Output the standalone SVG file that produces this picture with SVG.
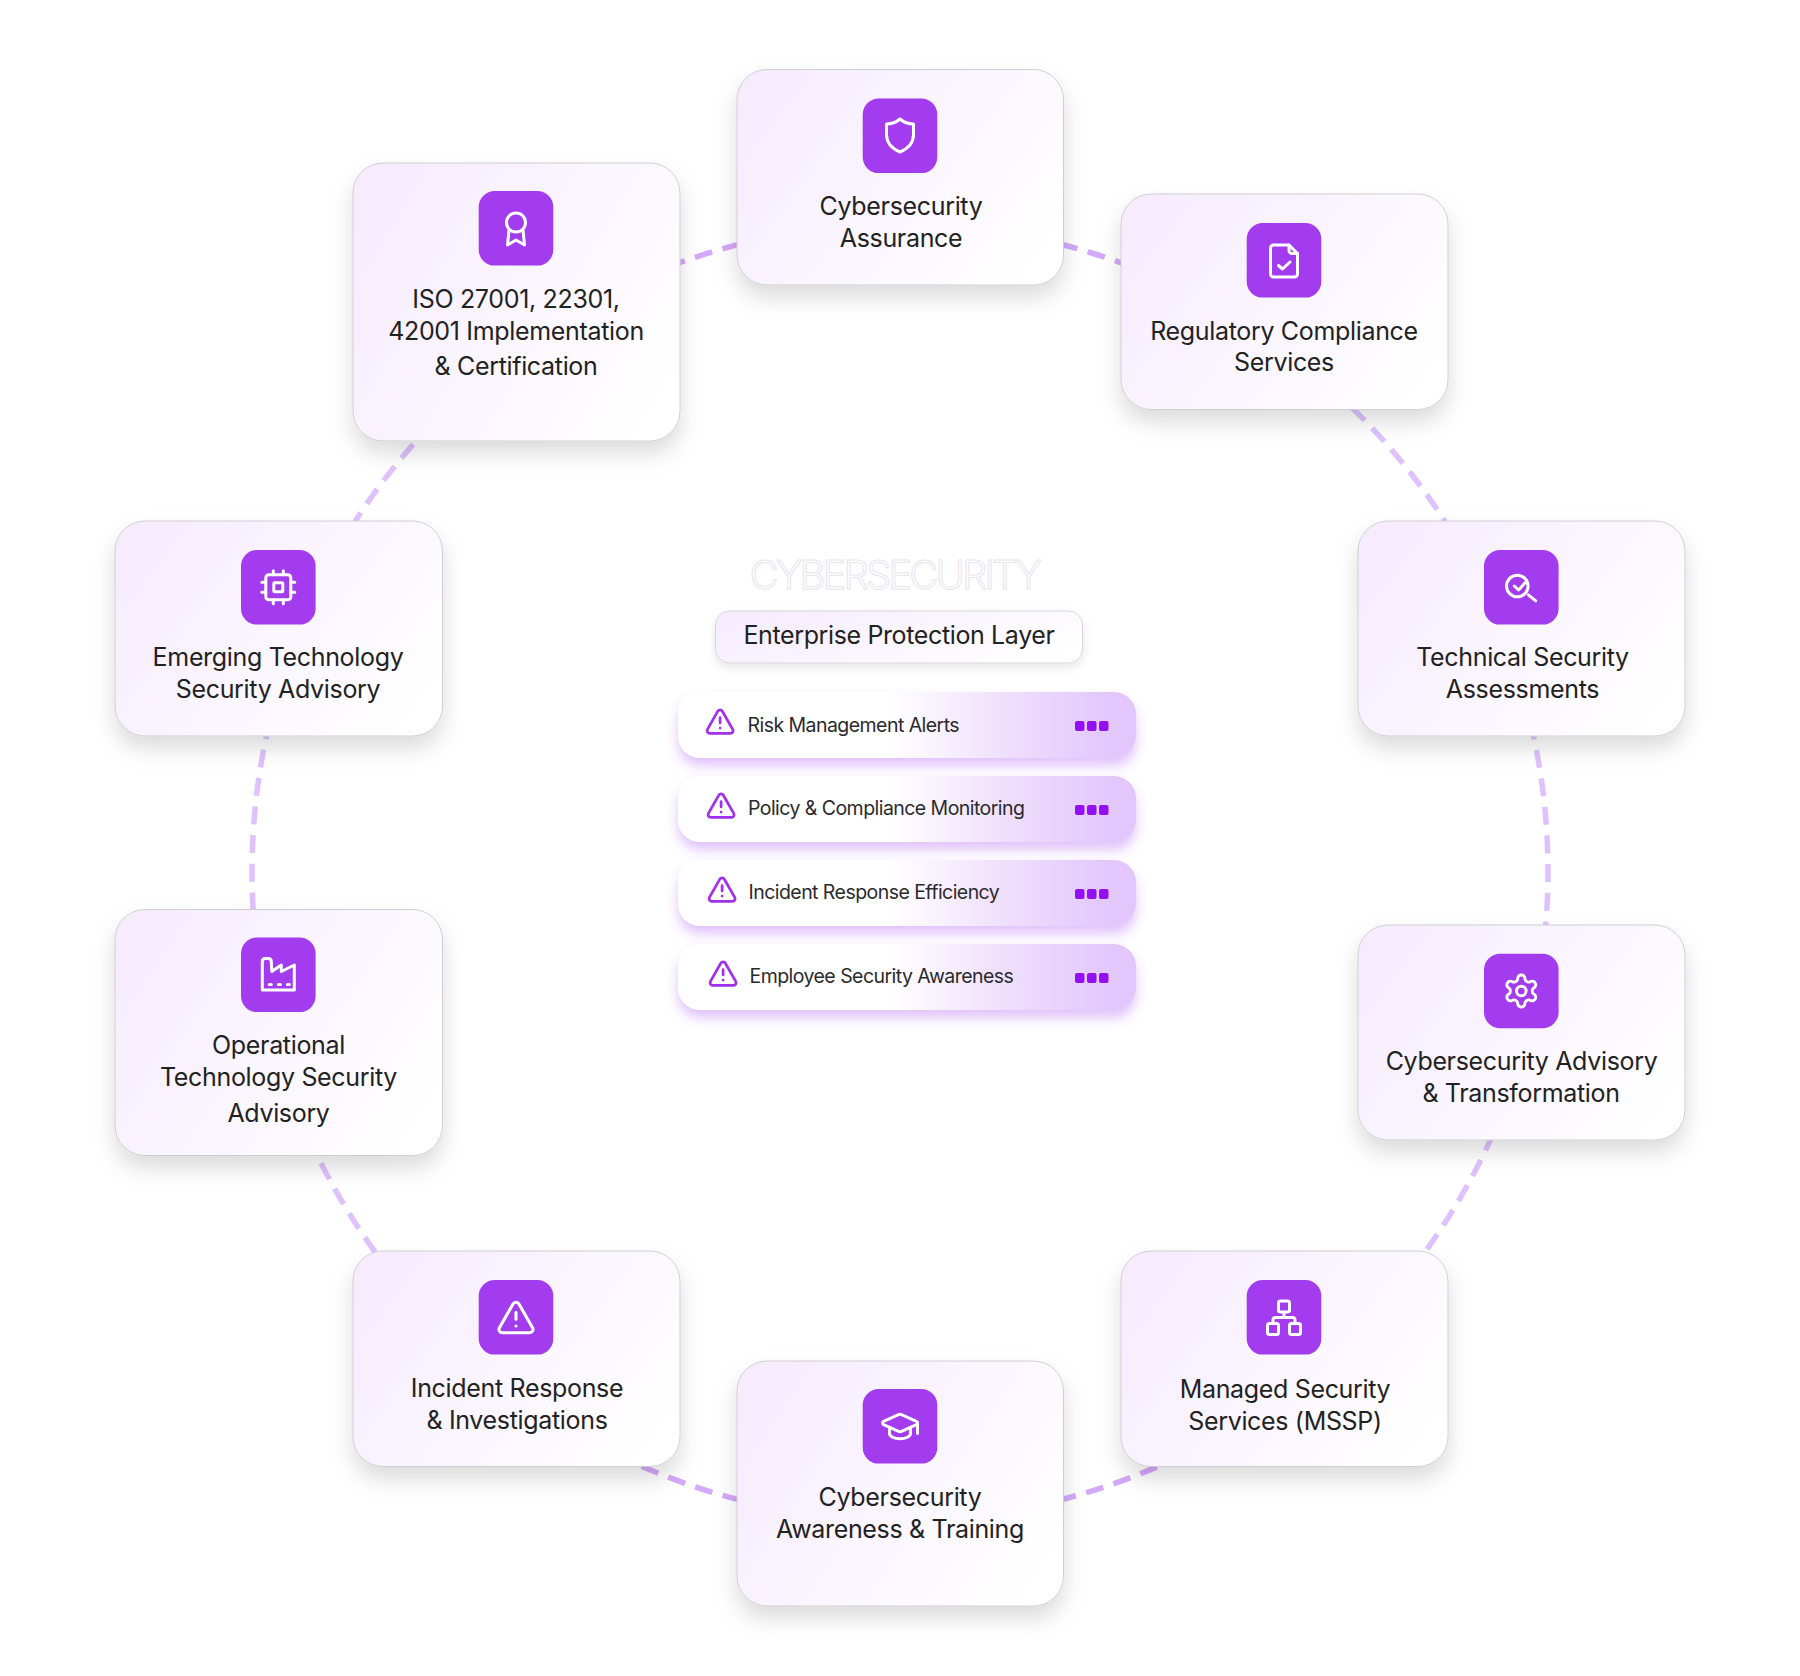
<svg xmlns="http://www.w3.org/2000/svg" width="1800" height="1676" viewBox="0 0 1800 1676">
<style>
text{font-family:"Inter","Liberation Sans",sans-serif}
.card{fill:url(#cg);stroke:#cbc9ce;stroke-width:.9;filter:url(#cs)}
.ib{fill:#a23cee}
.ic{fill:none;stroke:#fff;stroke-width:3;stroke-linecap:round;stroke-linejoin:round}
.t{font-size:25px;letter-spacing:-.33px;fill:#222;text-anchor:middle}
.row{fill:url(#rg);filter:url(#rs)}
.rt{font-size:19.500px;letter-spacing:-.55px;fill:#2a2a2e}
.tri{fill:none;stroke:#a030ee;stroke-width:2.100;stroke-linecap:round;stroke-linejoin:round}
.dot{fill:#9410f0}
.dk,.lt{fill:none;stroke-width:5.500;stroke-dasharray:18 10.700}
.dk{stroke:#d4a8fb}
.lt{stroke:#dfc2fd}
</style>
<defs>
<linearGradient id="cg" x1="0" y1="0.25" x2="1" y2="0.75"><stop offset="0" stop-color="#f6ecfe"/><stop offset="1" stop-color="#fff"/></linearGradient>
<linearGradient id="pg" x1="0" y1="0.3" x2="1" y2="0.7"><stop offset="0" stop-color="#f6ecfe"/><stop offset="1" stop-color="#fff"/></linearGradient>
<linearGradient id="rg" x1="0" y1="0" x2="1" y2="0"><stop offset="0" stop-color="#fff"/><stop offset=".46" stop-color="#fff"/><stop offset=".7" stop-color="#f0e1fd"/><stop offset=".95" stop-color="#e2c6fc"/><stop offset="1" stop-color="#e2c6fc"/></linearGradient>
<filter id="cs" x="-20%" y="-20%" width="140%" height="150%"><feDropShadow dx="0" dy="12" stdDeviation="11" flood-color="#000" flood-opacity=".14"/></filter>
<filter id="ps" x="-10%" y="-30%" width="120%" height="180%"><feDropShadow dx="0" dy="4" stdDeviation="5" flood-color="#000" flood-opacity=".1"/></filter>
<filter id="rs" x="-10%" y="-30%" width="120%" height="180%"><feDropShadow dx="0" dy="8" stdDeviation="6" flood-color="#a045f0" flood-opacity=".32"/></filter>
<g id="warn"><path d="m21.730 18-8-14a2 2 0 0 0-3.480 0l-8 14A2 2 0 0 0 4 21h16a2 2 0 0 0 1.730-3"/><path d="M12 9v4"/><path d="M12 17h.01"/></g>
</defs>
<rect width="1800" height="1676" fill="#fff"/>
<g id="connectors">
<path class="dk" d="M668 267A648 648 0 0 1 740 244"/>
<path class="dk" d="M1060 244A648 648 0 0 1 1124 264"/>
<path class="lt" d="M1352 407.700A648 648 0 0 1 1445 521.500"/>
<path class="lt" d="M1530.400 722A648 648 0 0 1 1545.700 926"/>
<path class="lt" d="M1493 1134A648 648 0 0 1 1420 1258.700"/>
<path class="dk" d="M1183 1454.900A648 648 0 0 1 1060 1500"/>
<path class="dk" d="M740 1500A648 648 0 0 1 630 1461"/>
<path class="lt" d="M392.500 1275A648 648 0 0 1 310 1140"/>
<path class="lt" d="M255.500 939A648 648 0 0 1 269.600 722"/>
<path class="lt" d="M351 527.800A648 648 0 0 1 440 415.600"/>
</g>
<g id="center">
<text x="749.500" y="589" font-size="40" fill="none" stroke="#e9e3ee" stroke-width="1" font-weight="300" letter-spacing="-2.900">CYBERSECURITY</text>
<g id="pill"><rect x="715.500" y="611" width="367" height="52" rx="14" fill="url(#pg)" stroke="#d0ced2" stroke-width=".8" filter="url(#ps)"/>
<text x="899" y="644" font-size="25" letter-spacing="-.37" fill="#222" text-anchor="middle">Enterprise Protection Layer</text></g>
<g id="row1"><rect class="row" x="678" y="692" width="458" height="66" rx="22"/>
<g class="tri" transform="translate(704.500 706) scale(1.300)"><use href="#warn"/></g>
<text class="rt" x="747.500" y="731.500">Risk Management Alerts</text>
<rect class="dot" x="1075" y="721" width="9.500" height="10" rx="2"/><rect class="dot" x="1087" y="721" width="9.500" height="10" rx="2"/><rect class="dot" x="1099" y="721" width="9.500" height="10" rx="2"/></g>
<g id="row2"><rect class="row" x="678" y="776" width="458" height="66" rx="22"/>
<g class="tri" transform="translate(705.500 790) scale(1.300)"><use href="#warn"/></g>
<text class="rt" x="748" y="815">Policy &amp; Compliance Monitoring</text>
<rect class="dot" x="1075" y="805" width="9.500" height="10" rx="2"/><rect class="dot" x="1087" y="805" width="9.500" height="10" rx="2"/><rect class="dot" x="1099" y="805" width="9.500" height="10" rx="2"/></g>
<g id="row3"><rect class="row" x="678" y="860" width="458" height="66" rx="22"/>
<g class="tri" transform="translate(706.500 874) scale(1.300)"><use href="#warn"/></g>
<text class="rt" x="748.500" y="899">Incident Response Efficiency</text>
<rect class="dot" x="1075" y="889" width="9.500" height="10" rx="2"/><rect class="dot" x="1087" y="889" width="9.500" height="10" rx="2"/><rect class="dot" x="1099" y="889" width="9.500" height="10" rx="2"/></g>
<g id="row4"><rect class="row" x="678" y="944" width="458" height="66" rx="22"/>
<g class="tri" transform="translate(707.500 958) scale(1.300)"><use href="#warn"/></g>
<text class="rt" x="749.500" y="982.500">Employee Security Awareness</text>
<rect class="dot" x="1075" y="973" width="9.500" height="10" rx="2"/><rect class="dot" x="1087" y="973" width="9.500" height="10" rx="2"/><rect class="dot" x="1099" y="973" width="9.500" height="10" rx="2"/></g>
</g>
<g id="node-assurance"><rect class="card" x="737" y="69.500" width="326.500" height="215.500" rx="30"/>
<rect class="ib" x="862.700" y="98.500" width="74.600" height="74.600" rx="16"/>
<g class="ic" transform="translate(900 135.500)"><path d="M0-16.500C4-13 9-11.500 13.500-11.500V-1C13.500 8 7 13.500 0 16.500C-7 13.500-13.500 8-13.500-1V-11.500C-9-11.500-4-13 0-16.500Z"/></g>
<text class="t" x="901" y="215">Cybersecurity</text><text class="t" x="901" y="246.500">Assurance</text></g>
<g id="node-regulatory"><rect class="card" x="1121" y="194" width="327" height="215.500" rx="30"/>
<rect class="ib" x="1246.700" y="223" width="74.600" height="74.600" rx="16"/>
<g class="ic" transform="translate(1284 260.500)"><path d="M-10-15.500H5L13.500-7V13.500A3 3 0 0 1 10.500 16.500H-10.500A3 3 0 0 1-13.500 13.500V-12.500A3 3 0 0 1-10.500-15.500Z"/><path d="M5-15.500V-10A3 3 0 0 0 8-7H13.500"/><path d="M-5.500 5L-1.500 8.500L6 1.500"/></g>
<text class="t" x="1284" y="339.500">Regulatory Compliance</text><text class="t" x="1284" y="371">Services</text></g>
<g id="node-technical"><rect class="card" x="1358" y="521" width="327" height="215" rx="30"/>
<rect class="ib" x="1484" y="550" width="74.600" height="74.600" rx="16"/>
<g class="ic" transform="translate(1521.300 587.300)"><circle cx="-4" cy="-1.300" r="10.800"/><path d="M4-4.700L-2.700 2.700L-7-1.300"/><path d="M7 7.500L14.500 13.500"/></g>
<text class="t" x="1522.500" y="666">Technical Security</text><text class="t" x="1522.500" y="698">Assessments</text></g>
<g id="node-advisory"><rect class="card" x="1358" y="925" width="327" height="215" rx="30"/>
<rect class="ib" x="1484" y="953.700" width="74.600" height="74.600" rx="16"/>
<g class="ic" transform="translate(1521.300 991) scale(1.600) translate(-12 -12)" style="stroke-width:1.800"><path d="M12.220 2h-.44a2 2 0 0 0-2 2v.18a2 2 0 0 1-1 1.730l-.43.25a2 2 0 0 1-2 0l-.15-.08a2 2 0 0 0-2.730.73l-.22.38a2 2 0 0 0 .73 2.730l.15.1a2 2 0 0 1 1 1.720v.51a2 2 0 0 1-1 1.740l-.15.09a2 2 0 0 0-.73 2.730l.22.38a2 2 0 0 0 2.730.73l.15-.08a2 2 0 0 1 2 0l.43.25a2 2 0 0 1 1 1.730V20a2 2 0 0 0 2 2h.44a2 2 0 0 0 2-2v-.18a2 2 0 0 1 1-1.730l.43-.25a2 2 0 0 1 2 0l.15.08a2 2 0 0 0 2.730-.73l.22-.39a2 2 0 0 0-.73-2.730l-.15-.08a2 2 0 0 1-1-1.740v-.5a2 2 0 0 1 1-1.740l.15-.09a2 2 0 0 0 .73-2.730l-.22-.38a2 2 0 0 0-2.730-.73l-.15.08a2 2 0 0 1-2 0l-.43-.25a2 2 0 0 1-1-1.730V4a2 2 0 0 0-2-2z"/><circle cx="12" cy="12" r="3"/></g>
<text class="t" x="1521.500" y="1070">Cybersecurity Advisory</text><text class="t" x="1521" y="1102">&amp; Transformation</text></g>
<g id="node-mssp"><rect class="card" x="1121" y="1251" width="327" height="215.500" rx="30"/>
<rect class="ib" x="1246.700" y="1280" width="74.600" height="74.600" rx="16"/>
<g class="ic" transform="translate(1284 1317.500)"><rect x="-5.500" y="-16.500" width="11" height="11" rx="2"/><rect x="-16.500" y="6" width="11" height="11" rx="2"/><rect x="5.500" y="6" width="11" height="11" rx="2"/><path d="M0-5.500V0M-11 6V2.500A2.500 2.500 0 0 1-8.500 0H8.500A2.500 2.500 0 0 1 11 2.500V6"/></g>
<text class="t" x="1285" y="1398">Managed Security</text><text class="t" x="1285" y="1430">Services (MSSP)</text></g>
<g id="node-training"><rect class="card" x="737" y="1361" width="326.500" height="245" rx="30"/>
<rect class="ib" x="862.700" y="1389" width="74.600" height="74.600" rx="16"/>
<g class="ic" transform="translate(900 1426.500) scale(1.750) translate(-12 -12)" style="stroke-width:1.700"><path d="M21.420 10.922a1 1 0 0 0-.019-1.838L12.830 5.180a2 2 0 0 0-1.660 0L2.600 9.080a1 1 0 0 0 0 1.832l8.570 3.908a2 2 0 0 0 1.660 0z"/><path d="M22 10v6"/><path d="M6 12.500V16a6 3 0 0 0 12 0v-3.500"/></g>
<text class="t" x="900" y="1505.500">Cybersecurity</text><text class="t" x="900" y="1537.500">Awareness &amp; Training</text></g>
<g id="node-incident"><rect class="card" x="353" y="1251" width="327" height="215.500" rx="30"/>
<rect class="ib" x="478.700" y="1280" width="74.600" height="74.600" rx="16"/>
<g class="ic" transform="translate(516 1317.500) scale(1.700) translate(-12 -12)" style="stroke-width:1.800"><use href="#warn"/></g>
<text class="t" x="517" y="1396.500">Incident Response</text><text class="t" x="517" y="1428.500">&amp; Investigations</text></g>
<g id="node-operational"><rect class="card" x="115" y="909.500" width="327.500" height="246" rx="30"/>
<rect class="ib" x="241" y="937.500" width="74.600" height="74.600" rx="16"/>
<g class="ic" transform="translate(278.300 974.500)"><path d="M-16 15.500V-13Q-16-16-13-16H-10Q-7-16-7-13L-6.500-3L3-9.500V-3L16-9.500V15.500Z"/><path d="M-9 10H-7M0 10H2M9 10H11"/></g>
<text class="t" x="278.500" y="1054">Operational</text><text class="t" x="278.500" y="1086">Technology Security</text><text class="t" x="278.500" y="1121.500">Advisory</text></g>
<g id="node-emerging"><rect class="card" x="115" y="521" width="327.500" height="215" rx="30"/>
<rect class="ib" x="241" y="550" width="74.600" height="74.600" rx="16"/>
<g class="ic" transform="translate(278.300 587.300)"><rect x="-12.500" y="-12.500" width="25" height="25" rx="3"/><rect x="-4.500" y="-4.500" width="9" height="9" rx="1"/><path d="M-5-16.500V-12.500M5-16.500V-12.500M-5 12.500V16.500M5 12.500V16.500M-16.500-5H-12.500M-16.500 5H-12.500M12.500-5H16.500M12.500 5H16.500"/></g>
<text class="t" x="278" y="666">Emerging Technology</text><text class="t" x="278" y="697.500">Security Advisory</text></g>
<g id="node-iso"><rect class="card" x="353" y="163" width="327" height="278" rx="30"/>
<rect class="ib" x="478.700" y="191" width="74.600" height="74.600" rx="16"/>
<g class="ic" transform="translate(516 228.500)"><circle cx="0" cy="-6" r="9.500"/><path d="M-7 1.500L-8.500 16.500L0 11.500L8.500 16.500L7 1.500"/></g>
<text class="t" x="516" y="307.500">ISO 27001, 22301,</text><text class="t" x="516" y="339.500">42001 Implementation</text><text class="t" x="516" y="375">&amp; Certification</text></g>
</svg>
